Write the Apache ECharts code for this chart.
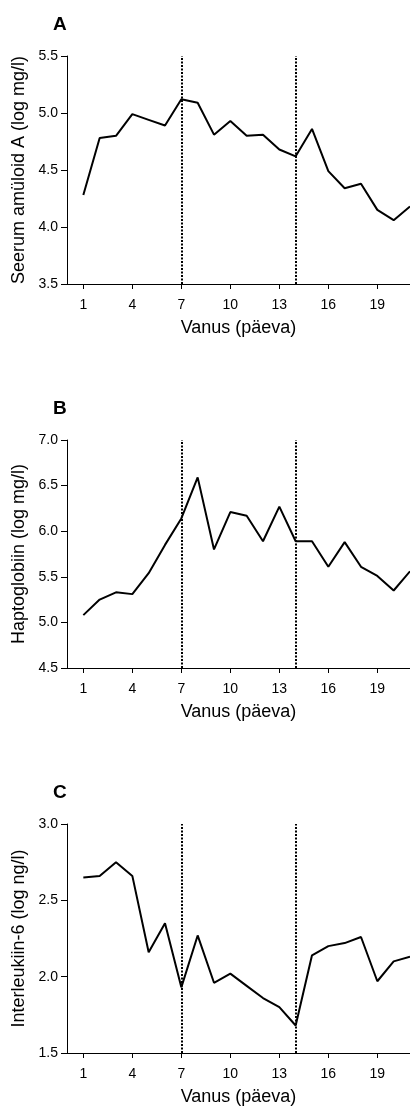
<!DOCTYPE html>
<html>
<head>
<meta charset="utf-8">
<script src="https://cdn.jsdelivr.net/npm/echarts@6/dist/echarts.min.js"></script>
<style>
  html, body { margin: 0; padding: 0; background: #fff; }
  #chart { width: 410px; height: 1108px; }
</style>
</head>
<body>
<div id="chart"></div>
<script>
// päevad 1..21
const days = [1, 2, 3, 4, 5, 6, 7, 8, 9, 10, 11, 12, 13, 14, 15, 16, 17, 18, 19, 20, 21]
const xTicks = [1, 4, 7, 10, 13, 16, 19]
const markDays = [7, 14]

// A: seerum amüloid A
const saaValues = [4.28, 4.78, 4.80, 4.99, 4.94, 4.89, 5.12, 5.09, 4.81, 4.93, 4.80, 4.81, 4.68, 4.62, 4.86, 4.49, 4.34, 4.38, 4.15, 4.06, 4.18]
// B: haptoglobiin
const hpValues = [5.08, 5.25, 5.33, 5.31, 5.54, 5.85, 6.14, 6.59, 5.80, 6.21, 6.17, 5.89, 6.27, 5.89, 5.89, 5.61, 5.88, 5.61, 5.51, 5.35, 5.56]
// C: interleukiin-6
const il6Values = [2.65, 2.66, 2.75, 2.66, 2.16, 2.35, 1.93, 2.27, 1.96, 2.02, 1.94, 1.86, 1.80, 1.68, 2.14, 2.20, 2.22, 2.26, 1.97, 2.10, 2.13]

const panels = [
  { letter: 'A', name: 'Seerum amüloid A (log mg/l)', min: 3.5, max: 5.5, top: 56, height: 228, values: saaValues },
  { letter: 'B', name: 'Haptoglobiin (log mg/l)', min: 4.5, max: 7.0, top: 440, height: 228, values: hpValues },
  { letter: 'C', name: 'Interleukiin-6 (log ng/l)', min: 1.5, max: 3.0, top: 824, height: 229, values: il6Values },
]

const font = 'Liberation Sans, Arial, sans-serif'

var chart = echarts.init(document.getElementById('chart'))

chart.setOption({
  animation: false,
  backgroundColor: '#fff',
  title: panels.map((p) => ({
    text: p.letter,
    left: 48,
    top: p.top - 46,
    textStyle: { fontFamily: font, fontSize: 19, fontWeight: 'bold', color: '#000' },
  })),
  grid: panels.map((p) => ({
    left: 67,
    top: p.top,
    height: p.height,
    width: 343.6,
  })),
  xAxis: panels.map((p, i) => ({
    type: 'value',
    gridIndex: i,
    min: 0,
    max: 21,
    name: 'Vanus (päeva)',
    nameLocation: 'middle',
    nameGap: 35,
    nameTextStyle: { fontFamily: font, fontSize: 18, color: '#000' },
    axisLine: { show: true, lineStyle: { color: '#000', width: 1 } },
    axisTick: { show: true, length: 5, customValues: xTicks, lineStyle: { color: '#000' } },
    axisLabel: {
      customValues: xTicks,
      margin: 14,
      fontFamily: font,
      fontSize: 14,
      color: '#000',
    },
    splitLine: { show: false },
  })),
  yAxis: panels.map((p, i) => ({
    type: 'value',
    gridIndex: i,
    min: p.min,
    max: p.max,
    interval: 0.5,
    name: p.name,
    nameLocation: 'middle',
    nameGap: 35,
    nameTextStyle: { fontFamily: font, fontSize: 18, color: '#000' },
    axisLine: { show: true, lineStyle: { color: '#000', width: 1 } },
    axisTick: { show: true, length: 6, lineStyle: { color: '#000' } },
    axisLabel: {
      margin: 9,
      fontFamily: font,
      fontSize: 14,
      color: '#000',
      formatter: (v) => v.toFixed(1),
    },
    splitLine: { show: false },
  })),
  series: panels.map((p, i) => ({
    type: 'line',
    xAxisIndex: i,
    yAxisIndex: i,
    data: days.map((d, j) => [d, p.values[j]]),
    showSymbol: false,
    lineStyle: { color: '#000', width: 2 },
    markLine: {
      silent: true,
      symbol: 'none',
      label: { show: false },
      lineStyle: { color: '#000', type: [2, 1.5], width: 2 },
      data: markDays.map((d) => ({ xAxis: d })),
    },
  })),
})
</script>
</body>
</html>
